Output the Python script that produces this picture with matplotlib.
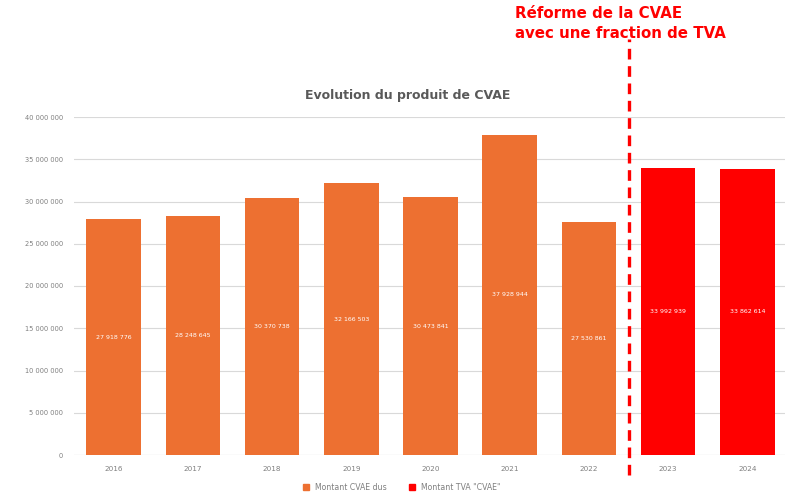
import matplotlib
matplotlib.use("Agg")
import matplotlib.pyplot as plt
from matplotlib.patches import Patch
import matplotlib.transforms as mtransforms

years = ["2016", "2017", "2018", "2019", "2020", "2021", "2022", "2023", "2024"]
cvae_dus = [27918776, 28248645, 30370738, 32166503, 30473841, 37928944, 27530861, None, None]
tva_cvae = [None, None, None, None, None, None, None, 33992939, 33862614]
y_ticks = [0, 5000000, 10000000, 15000000, 20000000, 25000000, 30000000, 35000000, 40000000]

ORANGE = "#ED7031"
RED = "#FF0000"
GREY = "#7f7f7f"


def fmt(v):
    return f"{v:,.0f}".replace(",", " ")


fig = plt.figure(figsize=(7.85, 4.99), dpi=100)
ax = fig.add_axes([74 / 785, 44 / 499, 713 / 785, 338 / 499])

x = list(range(len(years)))
width = 0.69
for i, (a, b) in enumerate(zip(cvae_dus, tva_cvae)):
    if a is not None:
        ax.bar(i, a, width=width, color=ORANGE, zorder=2)
        ax.text(i, a / 2, fmt(a), ha="center", va="center", color="white", fontsize=4.5, zorder=3)
    if b is not None:
        ax.bar(i, b, width=width, color=RED, zorder=2)
        ax.text(i, b / 2, fmt(b), ha="center", va="center", color="white", fontsize=4.5, zorder=3)

ax.set_xlim(-0.5, 8.5)
ax.set_ylim(0, 40000000)
ax.set_yticks(y_ticks)
ax.set_yticklabels([fmt(v) for v in y_ticks], fontsize=4.8, color=GREY)
ax.set_xticks(x)
ax.set_xticklabels(years, fontsize=5.2, color=GREY)
ax.tick_params(length=0, pad=8)
ax.tick_params(axis="y", pad=8)
ax.grid(axis="y", color="#d9d9d9", linewidth=0.8, zorder=0)
for s in ax.spines.values():
    s.set_visible(False)
ax.axhline(0, color="#d9d9d9", linewidth=0.8, zorder=1)

fig.text(408 / 785, 1 - 96 / 499, "Evolution du produit de CVAE", ha="center", va="center",
         fontsize=9, fontweight="bold", color="#595959")

# Reform marker between 2022 and 2023
trans = mtransforms.blended_transform_factory(ax.transData, ax.transAxes)
ax.plot([6.5, 6.5], [-0.06, 1.23], transform=trans, color=RED, linestyle=(0, (3.2, 2.0)),
        linewidth=2.4, clip_on=False, zorder=4)
fig.text(515 / 785, 1 - 14 / 499, "Réforme de la CVAE", ha="left", va="center",
         fontsize=10.8, fontweight="bold", color=RED)
fig.text(515 / 785, 1 - 33 / 499, "avec une fraction de TVA", ha="left", va="center",
         fontsize=10.8, fontweight="bold", color=RED)

handles = [Patch(color=ORANGE, label="Montant CVAE dus"),
           Patch(color=RED, label='Montant TVA "CVAE"')]
fig.legend(handles=handles, loc="center", bbox_to_anchor=(402 / 785, 1 - 487 / 499), ncol=2,
           fontsize=5.6, frameon=False, handlelength=0.8, handleheight=0.8,
           columnspacing=2.8, labelcolor=GREY)

fig.savefig("out.png", dpi=100)
